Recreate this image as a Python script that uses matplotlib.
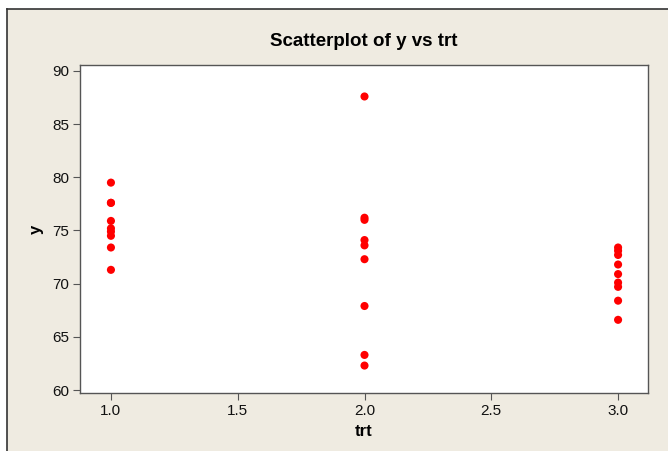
import matplotlib
matplotlib.use("Agg")
import matplotlib.pyplot as plt
from matplotlib.patches import Rectangle
from matplotlib.lines import Line2D

trt1 = [79.5, 77.6, 77.6, 75.9, 75.2, 74.9, 74.5, 73.4, 71.3]
trt2 = [87.6, 76.2, 76.0, 74.1, 73.6, 72.3, 67.9, 63.3, 62.3]
trt3 = [73.4, 73.1, 72.7, 71.8, 70.9, 70.1, 69.7, 68.4, 66.6]
groups = [1.0, 2.0, 3.0]
xticks = [1.0, 1.5, 2.0, 2.5, 3.0]
yticks = [60, 65, 70, 75, 80, 85, 90]

plt.rcParams['font.family'] = ['Liberation Sans Narrow', 'Liberation Sans', 'DejaVu Sans']

W, H = 668, 451
fig = plt.figure(figsize=(W/100, H/100), dpi=100, facecolor='white')
bg = '#EFEBE1'
fig.patches.append(Rectangle((7/W, 0), 1 - 7/W, 1 - 9/H, transform=fig.transFigure,
                             facecolor=bg, edgecolor='none', zorder=-10))
fig.lines.append(Line2D([7/W, 1], [1 - 9/H, 1 - 9/H], transform=fig.transFigure, color='#333333', lw=1.2))
fig.lines.append(Line2D([7/W, 7/W], [0, 1 - 9/H], transform=fig.transFigure, color='#333333', lw=1.2))

ax = fig.add_axes([80/W, 1 - 393/H, (648-80)/W, (393-65)/H])
ax.set_zorder(5)
ax.set_facecolor('white')
for g, vals in zip(groups, [trt1, trt2, trt3]):
    ax.scatter([g]*len(vals), vals, s=34, color='#FF0000', edgecolors='none', zorder=3)

ax.set_xlim(0.878, 3.118)
ax.set_ylim(59.72, 90.56)
ax.set_xticks(xticks)
ax.set_xticklabels([f"{t:.1f}" for t in xticks])
ax.set_yticks(yticks)
ax.tick_params(direction='out', length=5, width=0.8, color='#555555', labelsize=11, labelcolor='#111111', pad=3)
for s in ax.spines.values():
    s.set_color('#555555')
    s.set_linewidth(1.0)

ax.set_xlabel('trt', fontsize=12, fontweight='bold', labelpad=4)
ax.set_ylabel('y', fontsize=12, fontweight='bold', labelpad=6)
fig.text(364/W, 1 - 42/H, 'Scatterplot of y vs trt', ha='center', va='center', fontsize=13.5, fontweight='bold')

fig.savefig('out.png', dpi=100, facecolor=fig.get_facecolor())
